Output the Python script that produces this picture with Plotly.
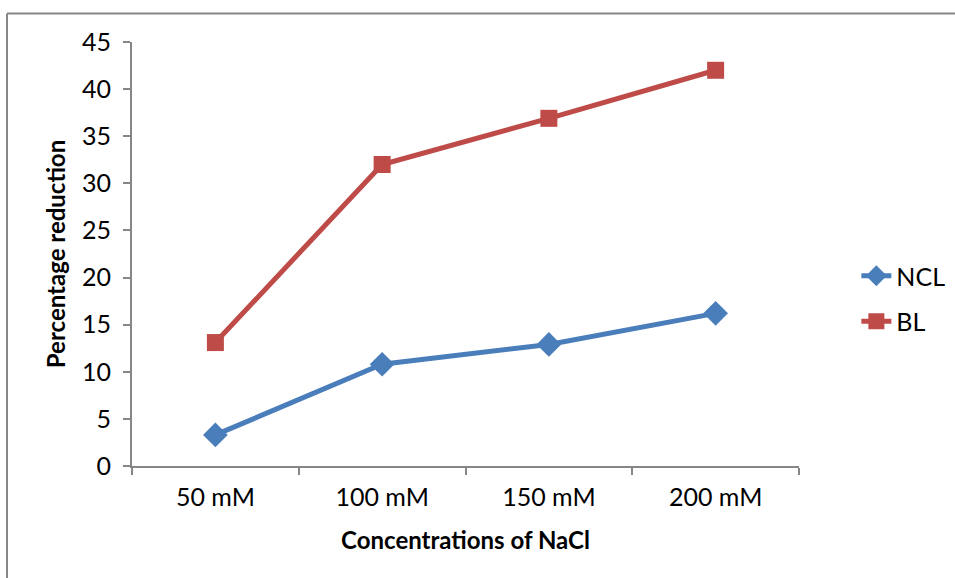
import plotly.graph_objects as go

categories = ["50 mM", "100 mM", "150 mM", "200 mM"]
ncl = [3.3, 10.8, 12.9, 16.2]
bl = [13.1, 32.0, 36.9, 42.0]
y_ticks = [0, 5, 10, 15, 20, 25, 30, 35, 40, 45]

FONT = "Lato"
fig = go.Figure()
fig.add_trace(go.Scatter(
    x=categories, y=ncl, name="NCL", mode="lines+markers", legendgroup="a",
    line=dict(color="#4A7EBB", width=5),
    marker=dict(symbol="diamond", size=19, color="#4A7EBB"),
))
fig.add_trace(go.Scatter(
    x=categories, y=bl, name="BL", mode="lines+markers", legendgroup="b",
    line=dict(color="#BE4B48", width=5),
    marker=dict(symbol="square", size=17, color="#BE4B48"),
))

# outer chart border (top and left)
fig.add_shape(type="line", xref="paper", yref="paper", x0=-0.1874, x1=1.25, y0=1.0672, y1=1.0672,
              line=dict(color="#888888", width=2))
fig.add_shape(type="line", xref="paper", yref="paper", x0=-0.1874, x1=-0.1874, y0=1.0672, y1=-0.3,
              line=dict(color="#888888", width=2))

fig.update_layout(
    width=955, height=578,
    margin=dict(l=132, r=156, t=42, b=112, autoexpand=False),
    paper_bgcolor="white", plot_bgcolor="white",
    font=dict(family=FONT, size=25, color="black"),
    showlegend=True,
    legend=dict(x=1.086, y=0.395, xanchor="left", yanchor="middle",
                tracegroupgap=10, font=dict(size=25), bgcolor="rgba(0,0,0,0)"),
    xaxis=dict(
        type="category", range=[-0.5, 3.5], tickson="boundaries",
        showline=True, linecolor="#868686", linewidth=2,
        ticks="outside", ticklen=7, tickcolor="#868686", tickwidth=2,
        showgrid=False, zeroline=False, ticklabelstandoff=8,
        title=dict(text="<b>Concentrations of NaCl</b>", standoff=22, font=dict(size=24)),
    ),
    yaxis=dict(
        range=[0, 45], tickvals=y_ticks,
        showline=True, linecolor="#868686", linewidth=2,
        ticks="outside", ticklen=7, tickcolor="#868686", tickwidth=2,
        showgrid=False, zeroline=False, ticklabelstandoff=7,
        title=dict(text="<b>Percentage reduction</b>", standoff=10, font=dict(size=24)),
    ),
)

fig.write_html("out.html")
